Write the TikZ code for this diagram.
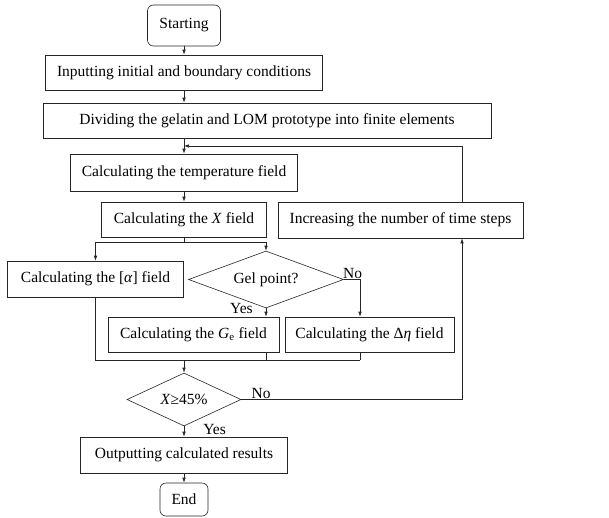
\documentclass[tikz,border=0pt]{standalone}
\usepackage{fontspec}
\setmainfont{Liberation Serif}
\usetikzlibrary{shapes.geometric, arrows.meta}

\tikzset{
    box/.style = {draw, rectangle, inner sep=0pt, minimum height=35pt},
    term/.style = {draw, rectangle, rounded corners=6pt, inner sep=0pt},
    decide/.style = {draw, diamond, inner sep=0pt, aspect=2.5},
    tag/.style = {inner sep=1pt}
}

\begin{document}
\begin{tikzpicture}[x=1pt, y=-1pt, line width=0.6pt, draw=black!85,
        font=\fontsize{15.5}{18}\selectfont,
        >={Latex[length=5pt, width=3.5pt]}]
    \useasboundingbox (0, 0) rectangle (609, 517);

    \node [term, minimum width=73pt, minimum height=41pt] (start) at (184, 25.5) {Starting};
    \node [box, minimum width=277pt] (input) at (184, 72.5) {Inputting initial and boundary conditions};
    \node [box, minimum width=448pt] (divide) at (267, 120.5) {Dividing the gelatin and LOM prototype into finite elements};
    \node [box, minimum width=227pt, minimum height=37pt] (temp) at (184, 172.5) {Calculating the temperature field};
    \node [box, minimum width=165pt] (xfield) at (184, 219.5) {Calculating the \textit{X} field};
    \node [box, minimum width=245pt, minimum height=36pt] (incr) at (400.5, 220) {Increasing the number of time steps};
    \node [box, minimum width=176pt, minimum height=36pt] (alpha) at (95.5, 279) {Calculating the [\textit{α}] field};
    \node [decide, minimum width=155pt, minimum height=57pt] (gel) at (266, 279.5) {Gel point?};
    \node [box, minimum width=171pt] (ge) at (193.5, 334.5) {Calculating the \textit{G}\textsubscript{e} field};
    \node [box, minimum width=169pt] (deta) at (369.5, 334.5) {Calculating the Δ\textit{η} field};
    \node [decide, minimum width=114pt, minimum height=53pt] (check) at (184, 399.5) {\textit{X}≥45\%};
    \node [box, minimum width=207pt, minimum height=36pt] (output) at (184, 455) {Outputting calculated results};
    \node [term, minimum width=48pt, minimum height=33pt] (finish) at (184, 499.5) {End};

    \coordinate (loop) at (462, 146);
    \coordinate (split) at (184, 242);
    \coordinate (nobend) at (360, 279.5);
    \coordinate (merge) at (184, 360);

    \draw [->] (start) -- (input);
    \draw [->] (input) -- (input |- divide.north);
    \draw [->] (temp |- divide.south) -- (temp);
    \draw [->] (incr.north -| loop) -- (loop) -- (loop -| temp);
    \draw [->] (temp) -- (xfield);

    \draw (xfield) -- (split);
    \draw [->] (split) -| (alpha);
    \draw [->] (split) -| (gel);
    \draw [->] (gel.east) -- node [tag, pos=0.55, above] {No} (nobend) -- (nobend |- deta.north);
    \draw [->] (gel.south) node [tag, anchor=east, xshift=-12pt] {Yes} -- (gel.south |- ge.north);

    \draw (alpha) |- (nobend |- merge);
    \draw (gel.south |- ge.south) -- (gel.south |- merge);
    \draw (nobend |- deta.south) -- (nobend |- merge);
    \draw [->] (merge) -- (check);

    \draw [->] (check.east) -- node [tag, pos=0.09, above] {No} (check.east -| loop) -- (incr.south -| loop);
    \draw [->] (check.south) node [tag, anchor=north west, xshift=18pt, yshift=3pt] {Yes} -- (output);
    \draw [->] (output) -- (finish);

\end{tikzpicture}
\end{document}
